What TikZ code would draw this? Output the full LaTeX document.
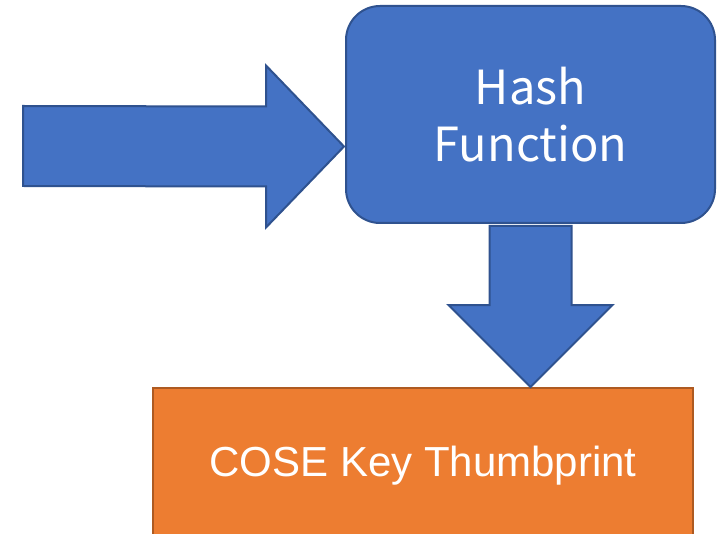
\documentclass[tikz,border=0pt]{standalone}
\usepackage{fontspec}
\setmainfont{Liberation Sans}
\newfontfamily\jpfont{Noto Sans CJK JP}
\usepackage{xcolor}
\usepackage{tikz}
\usetikzlibrary{positioning, calc}
\definecolor{hashblue}{HTML}{4472C4}
\definecolor{hashedge}{HTML}{2F528F}
\definecolor{thumborange}{HTML}{ED7D31}
\definecolor{thumbedge}{HTML}{AE5A21}

\begin{document}
\begin{tikzpicture}[
    x=1pt, y=-1pt,
    hashbox/.style={rectangle, draw=hashedge, fill=hashblue, line width=2pt, rounded corners=34pt, minimum width=369pt, minimum height=217pt, text width=300pt, align=center, font=\jpfont\fontsize{47}{57}\selectfont, text=white},
    thumbbox/.style={rectangle, draw=thumbedge, fill=thumborange, line width=2pt, minimum width=540pt, minimum height=156pt, font=\fontsize{42}{50}\selectfont, text=white},
    blockarrow/.style={draw=hashedge, fill=hashblue, line width=2pt, line join=miter}
]
\useasboundingbox (0,0) rectangle (727,534);

% Bloki
\node [hashbox] (hash) at (530.5, 114.5) {Hash\\Function};
\node [thumbbox] (thumb) at (423, 466) {COSE Key Thumbprint};

% Wejscie do funkcji skrotu
\coordinate (src) at (23, 146);
\coordinate (tipR) at ($(hash.west)+(-1,32)$);
\draw [blockarrow] ($(src)+(0,-40)$) -- ($(tipR)+(-78,-40)$) -- ($(tipR)+(-78,-81)$) -- (tipR)
    -- ($(tipR)+(-78,81)$) -- ($(tipR)+(-78,40)$) -- ($(src)+(0,40)$) -- cycle;

% Z funkcji skrotu do odcisku klucza
\coordinate (topD) at ($(hash.south)+(0,2)$);
\coordinate (tipD) at (thumb.north -| hash.south);
\draw [blockarrow] ($(topD)+(-41,0)$) -- ($(tipD)+(-41,-82)$) -- ($(tipD)+(-82,-82)$) -- (tipD)
    -- ($(tipD)+(82,-82)$) -- ($(tipD)+(41,-82)$) -- ($(topD)+(41,0)$) -- cycle;

\end{tikzpicture}
\end{document}
